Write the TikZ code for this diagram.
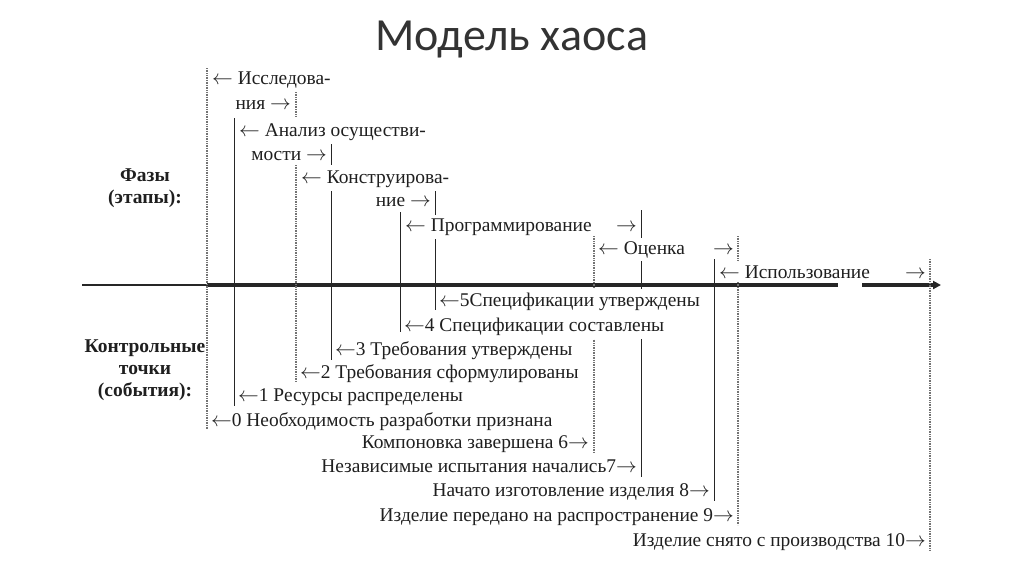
\documentclass[tikz,border=0pt]{standalone}
\usepackage{fontspec}
\setmainfont{Liberation Serif}
\newfontfamily\titlefont{Carlito}
\usetikzlibrary{arrows.meta}
\begin{document}
\begin{tikzpicture}[x=1pt,y=-1pt,
  lbl/.style={inner xsep=0pt,inner ysep=3.5pt,fill=white,font=\fontsize{19.4}{22}\selectfont,text=black!88},
  lw/.style={lbl,anchor=base west},
  le/.style={lbl,anchor=base east},
  bigl/.style={inner sep=0pt,align=center,font=\bfseries\fontsize{19.5}{22}\selectfont,text=black!88},
  tsolid/.style={draw=black!85,line width=1pt},
  tdot/.style={draw=black!55,line width=1.3pt,dash pattern=on 1pt off 0.7pt},
  axisthin/.style={draw=black!85,line width=1.8pt},
  axisthick/.style={draw=black!85,line width=3.4pt}]
\useasboundingbox (0,0) rectangle (1024,576);
\fill[white] (0,0) rectangle (1024,576);
% title
\node[inner sep=0pt,anchor=base,font=\titlefont\fontsize{46}{50}\selectfont,text=black!80] (title) at (512,50) {Модель хаоса};
% side labels
\node[bigl] (phases) at (145,188) {Фазы\\(этапы):};
\node[bigl] (events) at (145,370) {Контрольные\\точки\\(события):};
% coordinates of the axis
\coordinate (a0) at (82,285);
\coordinate (a1) at (207,285);
\coordinate (a2) at (838,285);
\coordinate (a3) at (862,285);
\coordinate (a4) at (941,285);
\draw[axisthin] (a0) -- (a1);
\draw[axisthick] (a1) -- (a2);
\draw[axisthick,-{Triangle[length=8pt,width=8pt]}] (a3) -- (a4);
% vertical lines
\coordinate (l0t) at (207,68);  \coordinate (l0b) at (207,430);
\coordinate (l1t) at (234,118); \coordinate (l1b) at (234,406);
\coordinate (e1t) at (296,92);  \coordinate (e1b) at (296,116);
\coordinate (l2t) at (296,165); \coordinate (l2b) at (296,382);
\coordinate (e2t) at (331,140); \coordinate (e2b) at (331,165);
\coordinate (l3t) at (331,188); \coordinate (l3b) at (331,360);
\coordinate (l4t) at (400,212); \coordinate (l4b) at (400,332);
\coordinate (l5t) at (435,188); \coordinate (l5b) at (435,310);
\coordinate (l6t) at (594,236); \coordinate (l6b) at (594,453);
\coordinate (l7t) at (641,210); \coordinate (l7b) at (641,477);
\coordinate (l8t) at (714,259); \coordinate (l8b) at (714,501);
\coordinate (l9t) at (738,236); \coordinate (l9b) at (738,525);
\coordinate (l10t) at (930,259); \coordinate (l10b) at (930,551);
\draw[tdot] (l0t) -- (l0b);
\draw[tsolid] (l1t) -- (l1b);
\draw[tdot] (e1t) -- (e1b);
\draw[tdot] (l2t) -- (l2b);
\draw[tsolid] (e2t) -- (e2b);
\draw[tsolid] (l3t) -- (l3b);
\draw[tsolid] (l4t) -- (l4b);
\draw[tsolid] (l5t) -- (l5b);
\draw[tdot] (l6t) -- (l6b);
\draw[tsolid] (l7t) -- (l7b);
\draw[tsolid] (l8t) -- (l8b);
\draw[tdot] (l9t) -- (l9b);
\draw[tdot,line width=1.8pt] (l10t) -- (l10b);
% phases
\node[lw] (p1a) at (212,84) {$\leftarrow$ Исследова-};
\node[le] (p1b) at (291,109) {ния $\rightarrow$};
\node[lw] (p2a) at (239,136) {$\leftarrow$ Анализ осуществи-};
\node[le] (p2b) at (327,160) {мости $\rightarrow$};
\node[lw] (p3a) at (301,183) {$\leftarrow$ Конструирова-};
\node[le] (p3b) at (431,206) {ние $\rightarrow$};
\node[lw] (p4a) at (405,231) {$\leftarrow$ Программирование};
\node[le] (p4b) at (637,231) {$\rightarrow$};
\node[lw] (p5a) at (598,254) {$\leftarrow$ Оценка};
\node[le] (p5b) at (734,254) {$\rightarrow$};
\node[lw] (p6a) at (719,278) {$\leftarrow$ Использование};
\node[le] (p6b) at (926,278) {$\rightarrow$};
% milestones
\node[lw] (m5) at (439,306) {$\leftarrow$5Спецификации утверждены};
\node[lw] (m4) at (404,331) {$\leftarrow$4 Спецификации составлены};
\node[lw] (m3) at (335,355) {$\leftarrow$3 Требования утверждены};
\node[lw] (m2) at (300,378) {$\leftarrow$2 Требования сформулированы};
\node[lw] (m1) at (238,401) {$\leftarrow$1 Ресурсы распределены};
\node[lw] (m0) at (211,426) {$\leftarrow$0 Необходимость разработки признана};
\node[le] (m6) at (589,448) {Компоновка завершена 6$\rightarrow$};
\node[le] (m7) at (637,472) {Независимые испытания начались7$\rightarrow$};
\node[le] (m8) at (710,496) {Начато изготовление изделия 8$\rightarrow$};
\node[le] (m9) at (734,521) {Изделие передано на распространение 9$\rightarrow$};
\node[le] (m10) at (926,546) {Изделие снято с производства 10$\rightarrow$};
\end{tikzpicture}
\end{document}
